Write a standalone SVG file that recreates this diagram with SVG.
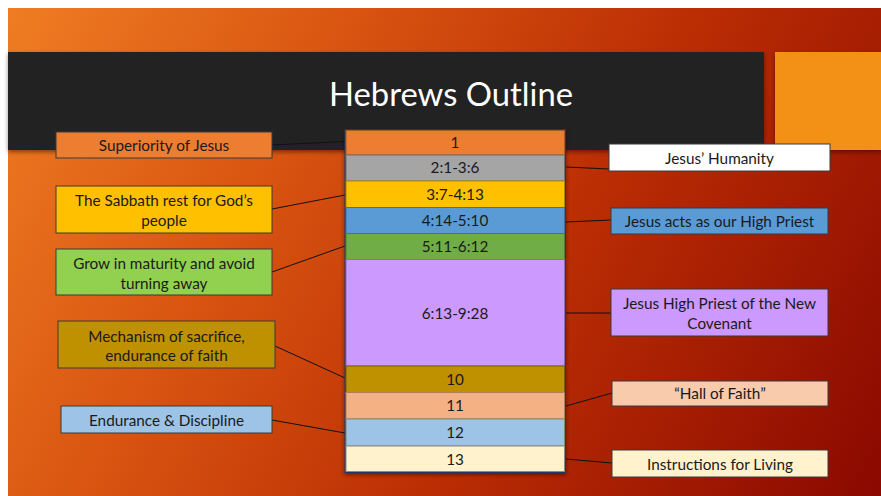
<svg xmlns="http://www.w3.org/2000/svg" width="881" height="496" viewBox="0 0 881 496">
<defs>
<linearGradient id="bg" gradientUnits="userSpaceOnUse" x1="8" y1="8" x2="881" y2="496">
<stop offset="0" stop-color="#ef7d23"/>
<stop offset="0.3" stop-color="#d95511"/>
<stop offset="0.6" stop-color="#bb2e04"/>
<stop offset="1" stop-color="#8a0800"/>
</linearGradient>
<filter id="sh" x="-5%" y="-10%" width="110%" height="130%">
<feDropShadow dx="0" dy="2" stdDeviation="2" flood-color="#000" flood-opacity="0.45"/>
</filter>
</defs>
<style>
text{font-family:Lato,"Liberation Sans",sans-serif;font-size:15.3px;fill:#1a1a1a;text-anchor:middle}
.title{font-size:33px;fill:#ffffff}
.box{stroke:#3a3a3a;stroke-width:1}
.row{stroke-width:1}
.conn{stroke:#111;stroke-width:1;fill:none}
</style>
<rect x="0" y="0" width="881" height="496" fill="#ffffff"/>
<rect x="8" y="8" width="873" height="488" fill="url(#bg)"/>
<rect x="8" y="52" width="756" height="98" fill="#222222" filter="url(#sh)"/>
<rect x="775" y="52" width="106" height="98" fill="#f29116" filter="url(#sh)"/>
<text class="title" x="451" y="106" textLength="244" lengthAdjust="spacingAndGlyphs">Hebrews Outline</text>

<g id="connectors">
<line class="conn" x1="272" y1="145" x2="345" y2="141.5"/>
<line class="conn" x1="272" y1="209" x2="345" y2="195"/>
<line class="conn" x1="272" y1="272" x2="345" y2="246"/>
<line class="conn" x1="275" y1="346" x2="345" y2="378"/>
<line class="conn" x1="272" y1="420" x2="345" y2="433"/>
<line class="conn" x1="566" y1="167" x2="609" y2="169"/>
<line class="conn" x1="566" y1="222" x2="611" y2="220"/>
<line class="conn" x1="566" y1="313" x2="611" y2="313"/>
<line class="conn" x1="566" y1="406" x2="612" y2="393"/>
<line class="conn" x1="566" y1="459" x2="612" y2="463"/>
</g>

<g id="column" filter="url(#sh)">
<rect x="344.5" y="129" width="221.5" height="344" fill="#203864"/>
</g>
<g id="row1"><rect class="row" x="346" y="130.5" width="218.5" height="24.5" fill="#ed7d31" stroke="#a75a25"/><text x="455" y="147.5">1</text></g>
<g id="row2"><rect class="row" x="346" y="155" width="218.5" height="26" fill="#a5a5a5" stroke="#6f6f6f"/><text x="455" y="173">2:1-3:6</text></g>
<g id="row3"><rect class="row" x="346" y="181" width="218.5" height="26.5" fill="#ffc000" stroke="#b08600"/><text x="455" y="199.5">3:7-4:13</text></g>
<g id="row4"><rect class="row" x="346" y="207.5" width="218.5" height="26" fill="#5b9bd5" stroke="#41719c"/><text x="455" y="225.5">4:14-5:10</text></g>
<g id="row5"><rect class="row" x="346" y="233.5" width="218.5" height="26" fill="#70ad47" stroke="#507e32"/><text x="455" y="251.5">5:11-6:12</text></g>
<g id="row6"><rect class="row" x="346" y="259.5" width="218.5" height="106.5" fill="#cc99ff" stroke="#8f6bb3"/><text x="455" y="318.5">6:13-9:28</text></g>
<g id="row7"><rect class="row" x="346" y="366" width="218.5" height="26.5" fill="#bf9000" stroke="#7f6000"/><text x="455" y="384.5">10</text></g>
<g id="row8"><rect class="row" x="346" y="392.5" width="218.5" height="26.5" fill="#f4b183" stroke="#ae7f5e"/><text x="455" y="411">11</text></g>
<g id="row9"><rect class="row" x="346" y="419" width="218.5" height="27" fill="#9dc3e6" stroke="#7f8a6a"/><text x="455" y="437.5">12</text></g>
<g id="row10"><rect class="row" x="346" y="446" width="218.5" height="25.5" fill="#fff2cc" stroke="#8a8a8a"/><text x="455" y="464.5">13</text></g>

<g id="superiority"><rect class="box" x="56" y="132" width="216" height="26" fill="#ed7d31"/><text x="164" y="150.5">Superiority of Jesus</text></g>
<g id="sabbath"><rect class="box" x="56" y="186" width="216" height="47" fill="#ffc000"/><text x="164" y="205.5">The Sabbath rest for God’s</text><text x="164" y="225.5">people</text></g>
<g id="grow"><rect class="box" x="56" y="249" width="216" height="46" fill="#92d050"/><text x="164" y="268.5">Grow in maturity and avoid</text><text x="164" y="288.5">turning away</text></g>
<g id="mechanism"><rect class="box" x="58" y="321" width="217" height="47" fill="#bf9000"/><text x="166.5" y="341.5">Mechanism of sacrifice,</text><text x="166.5" y="360.5">endurance of faith</text></g>
<g id="endurance"><rect class="box" x="61" y="406" width="211" height="27" fill="#9dc3e6"/><text x="166.5" y="425.5">Endurance &amp; Discipline</text></g>

<g id="humanity"><rect class="box" x="609" y="144" width="221" height="27" fill="#ffffff"/><text x="719.5" y="163.5">Jesus’ Humanity</text></g>
<g id="highpriest"><rect class="box" x="611" y="208" width="217" height="26" fill="#5b9bd5"/><text x="719.5" y="226.5">Jesus acts as our High Priest</text></g>
<g id="newcovenant"><rect class="box" x="611" y="289" width="217" height="47" fill="#cc99ff"/><text x="719.5" y="308.5">Jesus High Priest of the New</text><text x="719.5" y="328.5">Covenant</text></g>
<g id="hallfaith"><rect class="box" x="612" y="381" width="216" height="25" fill="#f8cbad"/><text x="720" y="398.5">“Hall of Faith”</text></g>
<g id="instructions"><rect class="box" x="612" y="450" width="216" height="27" fill="#fff2cc"/><text x="720" y="469.5">Instructions for Living</text></g>
</svg>
